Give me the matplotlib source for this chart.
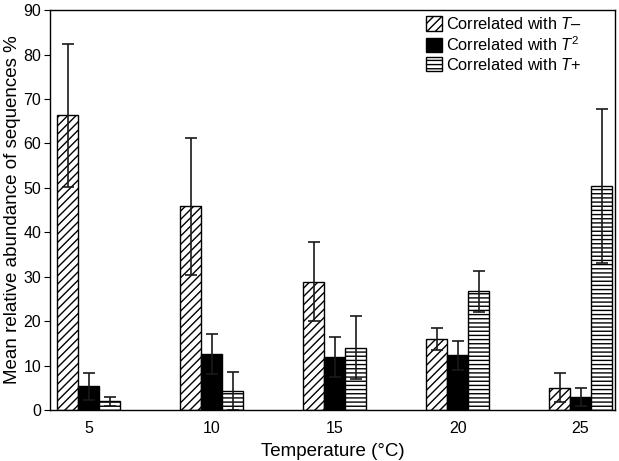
import matplotlib
matplotlib.use('Agg')
import matplotlib.pyplot as plt
import numpy as np

plt.rcParams['font.family'] = 'Liberation Sans'
plt.rcParams['mathtext.fontset'] = 'custom'
plt.rcParams['mathtext.rm'] = 'Liberation Sans'
plt.rcParams['mathtext.it'] = 'Liberation Sans:italic'
plt.rcParams['hatch.linewidth'] = 1.0

# температура
temps = [5, 10, 15, 20, 25]
labels = ['Correlated with $T$\u2013', 'Correlated with $T^2$', 'Correlated with $T$+']

# средние значения
t_minus = [66.3, 45.9, 28.9, 16.0, 5.0]
t_square = [5.3, 12.5, 11.9, 12.3, 2.9]
t_plus = [2.0, 4.3, 14.0, 26.7, 50.5]

# ошибки
err_minus = [16.0, 15.4, 8.9, 2.5, 3.3]
err_square = [3.1, 4.5, 4.5, 3.3, 2.1]
err_plus = [1.0, 4.2, 7.1, 4.7, 17.3]

fig = plt.figure(figsize=(6.19, 4.61), dpi=100)
ax = fig.add_axes([0.081, 0.1106, 0.9125, 0.8674])

x = np.array(temps)
w = 0.854
ekw = dict(ecolor='#1a1a1a', elinewidth=1.2, capsize=4, capthick=1.2)

ax.bar(x - w, t_minus, w, yerr=err_minus, color='white', edgecolor='black',
       hatch='////', linewidth=1.0, label=labels[0], error_kw=ekw)
ax.bar(x, t_square, w, yerr=err_square, color='black', edgecolor='black',
       linewidth=1.0, label=labels[1], error_kw=ekw)
ax.bar(x + w, t_plus, w, yerr=err_plus, color='white', edgecolor='black',
       hatch='----', linewidth=1.0, label=labels[2], error_kw=ekw)

ax.set_xlim(3.435, 26.4)
ax.set_ylim(0, 90)
ax.set_yticks(range(0, 91, 10))
ax.set_xticks(temps)
ax.tick_params(axis='x', length=0, labelsize=11.5, pad=8)
ax.tick_params(axis='y', direction='out', length=4, labelsize=11.5, pad=2.5)

for s in ax.spines.values():
    s.set_linewidth(1.0)

ax.set_xlabel('Temperature (\u00b0C)', fontsize=13.5, labelpad=5)
ax.set_ylabel('Mean relative abundance of sequences %', fontsize=13.5)
ax.yaxis.set_label_coords(-0.052, 0.5)

ax.legend(loc='upper left', bbox_to_anchor=(0.648, 1.01), frameon=False,
          fontsize=11.8, handlelength=1.0, handleheight=1.0, handletextpad=0.25,
          labelspacing=0.18, borderaxespad=0.2)

plt.savefig('out.png', dpi=100)
